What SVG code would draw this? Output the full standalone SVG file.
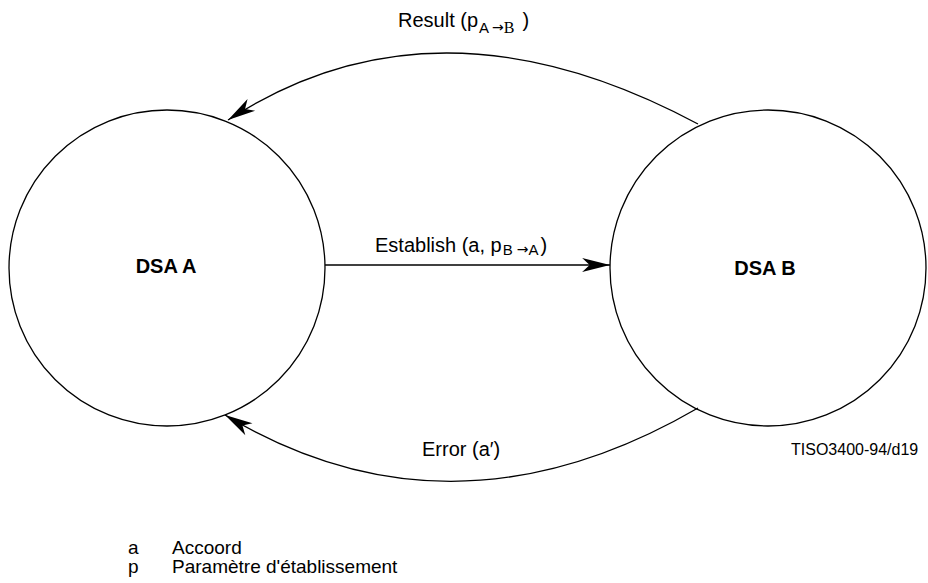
<svg xmlns="http://www.w3.org/2000/svg" width="928" height="583" viewBox="0 0 928 583">
<style>
  .node { fill: #fff; stroke: #000; stroke-width: 1.3; }
  .conn { fill: none; stroke: #000; stroke-width: 1.3; }
  .lbl { font-family: "Liberation Sans", Arial, sans-serif; font-size: 20px; fill: #000; }
  .bold { font-family: "Liberation Sans", Arial, sans-serif; font-size: 20px; font-weight: bold; fill: #000; }
  .sub { font-size: 15px; }
  .arr { font-size: 14px; font-family: "DejaVu Sans", sans-serif; }
  .serif { font-family: "Liberation Serif", "Times New Roman", serif; font-size: 16px; }
  .small { font-family: "Liberation Sans", Arial, sans-serif; font-size: 16px; fill: #000; }
  .legend { font-family: "Liberation Sans", Arial, sans-serif; font-size: 19px; fill: #000; }
</style>
<defs>
  <marker id="ah" markerUnits="userSpaceOnUse" markerWidth="30" markerHeight="20" viewBox="-27 -8 28 16" refX="0" refY="0" orient="auto">
    <path d="M0,0 L-26,-6.5 L-19,0 L-26,6.5 Z" fill="#000"/>
  </marker>
</defs>
<rect width="928" height="583" fill="#fff"/>
<g id="node-dsa-a">
  <circle class="node" cx="167" cy="268" r="158"/>
  <text class="bold" x="166" y="273" text-anchor="middle">DSA A</text>
</g>
<g id="node-dsa-b">
  <circle class="node" cx="768" cy="268" r="158"/>
  <text class="bold" x="765" y="275" text-anchor="middle">DSA B</text>
</g>
<g id="connectors">
  <path class="conn" d="M698,124 Q437,-16 228,120" marker-end="url(#ah)"/>
  <path class="conn" d="M325,265 L610,265" marker-end="url(#ah)"/>
  <path class="conn" d="M698,408 Q452,551 225,415" marker-end="url(#ah)"/>
</g>
<g id="labels">
  <text class="lbl" x="398" y="27">Result (p<tspan class="sub" dx="1" dy="6">A</tspan><tspan class="arr" dx="3" dy="-1">→</tspan><tspan class="serif" dy="1">B</tspan><tspan dx="8" dy="-6">)</tspan></text>
  <text class="lbl" x="375" y="252">Establish (a, p<tspan class="sub" dx="1" dy="3">B</tspan><tspan class="arr" dx="4" dy="-1">→</tspan><tspan class="sub" dy="1">A</tspan><tspan dx="2" dy="-3">)</tspan></text>
  <text class="lbl" x="422" y="456">Error (a′)</text>
  <text class="small" x="791" y="455">TISO3400-94/d19</text>
</g>
<g id="legend">
  <text class="legend" x="128" y="554">a</text>
  <text class="legend" x="172" y="554">Accoord</text>
  <text class="legend" x="128" y="573">p</text>
  <text class="legend" x="172" y="573">Paramètre d'établissement</text>
</g>
</svg>
